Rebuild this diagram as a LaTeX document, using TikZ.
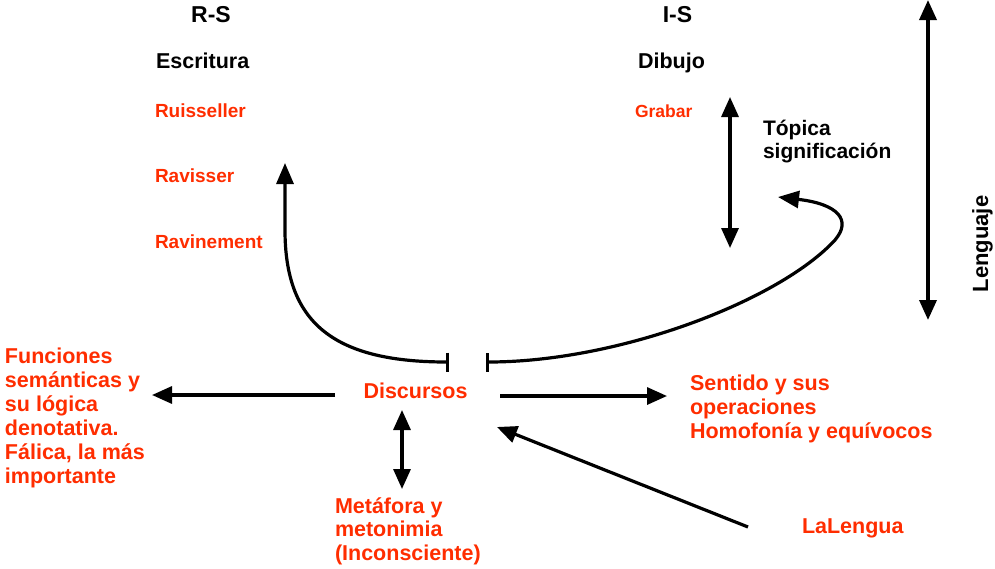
\documentclass[tikz,border=0pt]{standalone}
\usepackage{fontspec}
\setmainfont{Liberation Sans}
\usetikzlibrary{arrows.meta}
\definecolor{lacred}{RGB}{255,45,0}
\tikzset{
  txt/.style={inner sep=0pt, outer sep=0pt, align=left, font=\bfseries},
  big/.style={txt, font=\bfseries\fontsize{21.5}{24}\selectfont},
  redbig/.style={big, text=lacred},
  redsmall/.style={txt, text=lacred, font=\bfseries\fontsize{19}{22}\selectfont},
  head/.style={txt, font=\bfseries\fontsize{23}{26}\selectfont},
  conn/.style={line width=3.2pt, -{Triangle[width=17pt,length=20pt]}},
  dconn/.style={line width=3.2pt, {Triangle[width=17pt,length=20pt]}-{Triangle[width=17pt,length=20pt]}},
  barconn/.style={line width=3.2pt, {Bar[width=19pt]}-{Triangle[width=17pt,length=21pt]}}
}
\begin{document}
\begin{tikzpicture}[x=1pt,y=-1pt]
\useasboundingbox (0,0) rectangle (995,568);
% headings
\node[head, anchor=base] (rs) at (211,22) {R-S};
\node[head, anchor=base] (is) at (677.5,22) {I-S};
\node[big, anchor=base west] (esc) at (156,68) {Escritura};
\node[big, anchor=base west] (dib) at (638,68) {Dibujo};
\node[redsmall, anchor=base west] (rui) at (155,117) {Ruisseller};
\node[redsmall, anchor=base west] (rav) at (155,182) {Ravisser};
\node[redsmall, anchor=base west] (ravn) at (155,248) {Ravinement};
\node[redsmall, font=\bfseries\fontsize{17.5}{20}\selectfont, anchor=base west] (gra) at (635,117) {Grabar};
\node[txt, font=\bfseries\fontsize{21}{23}\selectfont, anchor=base west] (topica) at (763,158) {Tópica\\significación};
\node[txt, font=\bfseries\fontsize{22}{24}\selectfont, anchor=base, rotate=90] (len) at (988,244) {Lenguaje};
% main texts
\node[redbig, anchor=base west] (fun) at (5,483) {Funciones\\semánticas y\\su lógica\\denotativa.\\Fálica, la más\\importante};
\node[redbig, anchor=base] (disc) at (415.5,398) {Discursos};
\node[redbig, anchor=base west] (sent) at (690,438) {Sentido y sus\\operaciones\\Homofonía y equívocos};
\node[redbig, font=\bfseries\fontsize{21.5}{23.5}\selectfont, anchor=base west] (meta) at (335,560) {Metáfora y\\metonimia\\(Inconsciente)};
\node[redbig, anchor=base west] (lal) at (802,533) {LaLengua};
% connector ends
\coordinate (lenT) at (928,0);
\coordinate (lenB) at (928,320);
\coordinate (topT) at (730,97);
\coordinate (topB) at (730,248);
\coordinate (discW) at (335,395);
\coordinate (funE) at (152,395);
\coordinate (discE) at (500,396);
\coordinate (sentW) at (667,396);
\coordinate (discS) at (402,410);
\coordinate (metaN) at (402,489);
\coordinate (lalW) at (748,527);
\coordinate (discSE) at (497,427);
\coordinate (barL) at (449,362);
\coordinate (ravT) at (285,163);
\coordinate (barR) at (486,362);
\coordinate (topC) at (778,197);
% connectors
\draw[dconn, line width=3.5pt] (lenT) -- (lenB);
\draw[dconn] (topT) -- (topB);
\draw[conn] (discW) -- (funE);
\draw[conn] (discE) -- (sentW);
\draw[dconn] (discS) -- (metaN);
\draw[conn] (lalW) -- (discSE);
\draw[barconn] (barL) .. controls (330,362) and (285,320) .. (285,230) -- (ravT);
\draw[barconn] (barR) .. controls (620,362) and (780,300) .. (835,240) .. controls (852,220) and (838,204) .. (topC);
\end{tikzpicture}
\end{document}
